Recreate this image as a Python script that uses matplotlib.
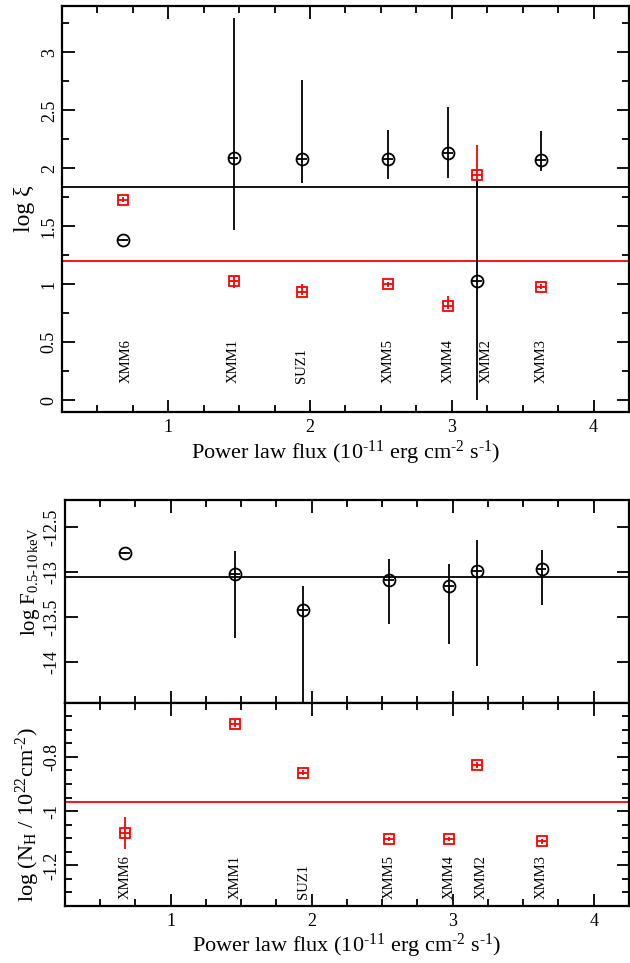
import matplotlib
matplotlib.use("Agg")
import matplotlib.pyplot as plt
from matplotlib.ticker import MultipleLocator, FixedLocator, FuncFormatter

plt.rcParams['font.family'] = ['Liberation Serif', 'DejaVu Serif']
plt.rcParams['mathtext.fontset'] = 'custom'
plt.rcParams['mathtext.rm'] = 'Liberation Serif'
plt.rcParams['mathtext.it'] = 'Liberation Serif:italic'
plt.rcParams['axes.unicode_minus'] = False

# ---------------- data ----------------
obs_names = ["XMM6", "XMM1", "SUZ1", "XMM5", "XMM4", "XMM2", "XMM3"]
pl_flux = [0.68, 1.46, 1.94, 2.55, 2.975, 3.175, 3.63]
pl_flux_err = [0.035, 0.035, 0.035, 0.035, 0.035, 0.035, 0.035]

# log xi, component 1 (black circles)
logxi1 = [1.38, 2.09, 2.08, 2.08, 2.13, 1.03, 2.07]
logxi1_lo = [1.37, 1.47, 1.87, 1.91, 1.92, 0.0, 1.98]
logxi1_hi = [1.39, 3.30, 2.76, 2.33, 2.53, 1.90, 2.32]
logxi1_mean = 1.84

# log xi, component 2 (red squares)
logxi2 = [1.73, 1.03, 0.93, 1.00, 0.81, 1.94, 0.98]
logxi2_lo = [1.71, 0.97, 0.91, 0.98, 0.79, 1.85, 0.96]
logxi2_hi = [1.75, 1.07, 1.00, 1.02, 0.90, 2.20, 1.00]
logxi2_mean = 1.20

# log F(0.5-10 keV) (black circles)
logF = [-12.79, -13.02, -13.42, -13.085, -13.15, -12.99, -12.97]
logF_lo = [-12.80, -13.73, -14.60, -13.58, -13.80, -14.04, -13.37]
logF_hi = [-12.78, -12.77, -13.15, -12.86, -12.91, -12.64, -12.76]
logF_mean = -13.06

# log NH (red squares)
logNH = [-1.082, -0.678, -0.859, -1.103, -1.103, -0.830, -1.112]
logNH_lo = [-1.140, -0.690, -0.868, -1.110, -1.110, -0.842, -1.120]
logNH_hi = [-1.021, -0.664, -0.850, -1.096, -1.096, -0.818, -1.104]
logNH_mean = -0.967

HY = "\u2010"
xlabel = ("Power law flux (10$^{\\mathregular{" + HY + "11}}$ erg cm$^{\\mathregular{" + HY +
          "2}}$ s$^{\\mathregular{" + HY + "1}}$)")

# ---------------- figure ----------------
fig = plt.figure(figsize=(6.3, 9.63), dpi=100)
ax1 = fig.add_axes([0.0984, 0.5722, 0.900, 0.4216])
ax2 = fig.add_axes([0.1027, 0.2703, 0.8957, 0.2105])
ax3 = fig.add_axes([0.1027, 0.0592, 0.8957, 0.2111])

BLACK = 'black'
RED = '#ff0000'
LW = 1.3
TICKFS = 13
LABELFS = 16

fmt = FuncFormatter(lambda v, p: ('%g' % round(v, 6)).replace('\u2212', '-'))


def errs(v, lo, hi):
    return [[a - b for a, b in zip(v, lo)], [c - a for a, c in zip(v, hi)]]


def style(ax, ymajor=None, yminor=None, xlabels=True):
    ax.set_xlim(0.25, 4.25)
    ax.xaxis.set_major_locator(MultipleLocator(1))
    ax.xaxis.set_minor_locator(MultipleLocator(0.25))
    ax.yaxis.set_major_locator(ymajor)
    ax.yaxis.set_minor_locator(yminor)
    ax.xaxis.set_major_formatter(fmt)
    ax.yaxis.set_major_formatter(fmt)
    ax.tick_params(which='both', direction='in', top=True, right=True, width=1.3,
                   labelsize=TICKFS)
    ax.tick_params(which='major', length=9)
    ax.tick_params(which='minor', length=5)
    ax.tick_params(axis='y', labelrotation=90, pad=3)
    ax.tick_params(axis='x', pad=5)
    for lab in ax.get_yticklabels():
        lab.set_va('center')
    if not xlabels:
        ax.tick_params(axis='x', labelbottom=False)
    for s in ax.spines.values():
        s.set_linewidth(1.6)


def circles(ax, y, lo, hi):
    ax.errorbar(pl_flux, y, yerr=errs(y, lo, hi), xerr=pl_flux_err, fmt='o',
                mfc='none', mec=BLACK, ecolor=BLACK, mew=LW, elinewidth=LW,
                ms=8.6, capsize=0, zorder=3)


def squares(ax, y, lo, hi):
    ax.errorbar(pl_flux, y, yerr=errs(y, lo, hi), xerr=pl_flux_err, fmt='s',
                mfc='none', mec=RED, ecolor=RED, mew=LW, elinewidth=LW,
                ms=7.0, capsize=0, zorder=3)


label_dx_top = {"XMM6": 0.02, "XMM2": 0.065}
label_dx_bot = {"XMM2": 0.03}

# ---- panel 1: log xi ----
ax1.axhline(logxi1_mean, color=BLACK, lw=LW, zorder=1)
ax1.axhline(logxi2_mean, color=RED, lw=LW, zorder=1)
squares(ax1, logxi2, logxi2_lo, logxi2_hi)
circles(ax1, logxi1, logxi1_lo, logxi1_hi)
ax1.set_ylim(-0.1, 3.4)
style(ax1, ymajor=MultipleLocator(0.5), yminor=MultipleLocator(0.25))
ax1.set_xlabel(xlabel, fontsize=LABELFS, labelpad=2)
ax1.set_ylabel("log ξ", fontsize=LABELFS + 1)
ax1.yaxis.set_label_coords(-0.047, 0.5)
for name, x in zip(obs_names, pl_flux):
    ax1.text(x + label_dx_top.get(name, 0.0), 0.15, name, rotation=90,
             ha='center', va='bottom', fontsize=10.5)

# ---- panel 2: log F ----
ax2.axhline(logF_mean, color=BLACK, lw=LW, zorder=1)
circles(ax2, logF, logF_lo, logF_hi)
ax2.set_ylim(-14.45, -12.2)
style(ax2, ymajor=FixedLocator([-14, -13.5, -13, -12.5]), yminor=FixedLocator([]),
      xlabels=False)
ax2.set_ylabel("log F$_{\\mathregular{0.5" + HY + "10\\,keV}}$", fontsize=15)
ax2.yaxis.set_label_coords(-0.040, 0.6)

# ---- panel 3: log NH ----
ax3.axhline(logNH_mean, color=RED, lw=LW, zorder=1)
squares(ax3, logNH, logNH_lo, logNH_hi)
ax3.set_ylim(-1.35, -0.6)
style(ax3, ymajor=FixedLocator([-1.2, -1.0, -0.8]), yminor=MultipleLocator(0.05))
ax3.set_xlabel(xlabel, fontsize=LABELFS, labelpad=1)
ax3.set_ylabel("log (N$_{\\mathregular{H}}$ / 10$^{\\mathregular{22}}$cm$^{\\mathregular{" + HY +
               "2}}$)", fontsize=LABELFS)
ax3.yaxis.set_label_coords(-0.040, 0.45)
for name, x in zip(obs_names, pl_flux):
    ax3.text(x + label_dx_bot.get(name, 0.0), -1.323, name, rotation=90,
             ha='center', va='bottom', fontsize=10.5)

fig.savefig("out.png", dpi=100)
